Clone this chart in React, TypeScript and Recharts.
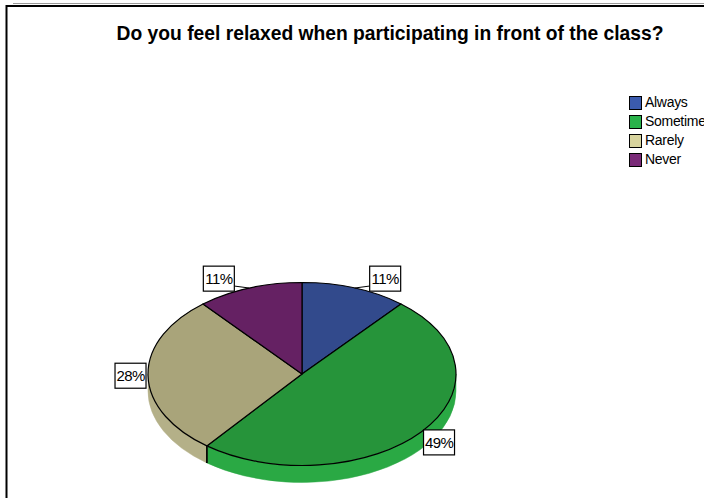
import { PieChart, Pie, Cell, Legend } from 'recharts';

const categories = ['Always', 'Sometimes', 'Rarely', 'Never'];
const percents = [11, 49, 28, 11];

const topColors = ['#324a8c', '#26943a', '#a9a47a', '#652163'];
const sideColors = ['#3a569e', '#2aa944', '#b4b088', '#74286f'];
const legendColors = ['#3b5bae', '#29b24a', '#d8d49e', '#7a2a78'];

const FONT = 'Arial, "Liberation Sans", sans-serif';
const FLAT = 0.594; // ellipse ratio of the tilted pie
const DEPTH = 17;

const data = categories.map((name, i) => ({ name, value: percents[i] }));

function pt(cx: number, cy: number, rx: number, ry: number, deg: number) {
  const r = (deg * Math.PI) / 180;
  return [cx + rx * Math.cos(r), cy - ry * Math.sin(r)];
}

function Slice3D(props: any) {
  const { cx, cy, outerRadius, startAngle, endAngle } = props;
  const name = props.payload?.name ?? props.name;
  const i = categories.indexOf(name);
  const rx = outerRadius;
  const ry = outerRadius * FLAT;
  const s = Math.max(startAngle, endAngle);
  const e = Math.min(startAngle, endAngle);
  const [x1, y1] = pt(cx, cy, rx, ry, s);
  const [x2, y2] = pt(cx, cy, rx, ry, e);
  const large = s - e > 180 ? 1 : 0;
  const top = `M${cx},${cy} L${x1},${y1} A${rx},${ry} 0 ${large} 1 ${x2},${y2} Z`;

  // side wall: the part of the arc in the front (lower) half
  const sides: any[] = [];
  [[-180, 0], [180, 360], [-540, -360]].forEach(([lo0, hi0], k) => {
    const lo = Math.max(e, lo0);
    const hi = Math.min(s, hi0);
    if (hi - lo < 0.01) return;
    const [ax, ay] = pt(cx, cy, rx, ry, hi);
    const [bx, by] = pt(cx, cy, rx, ry, lo);
    const d = `M${ax},${ay} A${rx},${ry} 0 0 1 ${bx},${by} L${bx},${by + DEPTH} A${rx},${ry} 0 0 0 ${ax},${ay + DEPTH} Z`;
    sides.push(<path key={'s' + k} d={d} fill={sideColors[i]} stroke={sideColors[i]} strokeWidth={0.5} />);
    if (lo === e && lo > lo0 + 0.01) {
      sides.push(<line key={'l' + k} x1={bx} y1={by} x2={bx} y2={by + DEPTH} stroke="#000" strokeWidth={1.5} />);
    }
    if (hi === s && hi < hi0 - 0.01) {
      sides.push(<line key={'h' + k} x1={ax} y1={ay} x2={ax} y2={ay + DEPTH} stroke="#000" strokeWidth={1.5} />);
    }
  });

  return (
    <g>
      {sides}
      <path d={top} fill={topColors[i]} stroke="#000" strokeWidth={1.2} strokeLinejoin="round" />
    </g>
  );
}

function renderLabel(props: any) {
  const { cx, cy, midAngle, outerRadius, value } = props;
  const rx = outerRadius;
  const ry = outerRadius * FLAT;
  const c = Math.cos((midAngle * Math.PI) / 180);
  const s = Math.sin((midAngle * Math.PI) / 180);
  const [px, py] = pt(cx, cy, rx, ry, midAngle);
  const w = 31;
  const h = 25;
  const g = s > 0.5 ? 15 : 2;
  const bx = c >= 0 ? px + g : px - g - w;
  const dy = s > 0 ? -10 * s : -17 * s;
  const by = py + dy - h / 2;
  const ex = c >= 0 ? bx : bx + w;
  const ey = Math.min(Math.max(py - 2, by), by + h);
  return (
    <g>
      {g > 5 && <line x1={px} y1={py} x2={ex} y2={ey} stroke="#000" strokeWidth={1} />}
      <rect x={bx} y={by} width={w} height={h} fill="#fff" stroke="#000" strokeWidth={1.2} />
      <text
        x={bx + w / 2}
        y={by + h / 2 + 5.5}
        textAnchor="middle"
        fontSize={15}
        letterSpacing={-0.6}
        fontFamily={FONT}
        fill="#000"
      >
        {value}%
      </text>
    </g>
  );
}

function renderLegend() {
  return (
    <div style={{ fontFamily: FONT, fontSize: 14, lineHeight: '19px' }}>
      {categories.map((name, i) => (
        <div key={name} style={{ display: 'flex', alignItems: 'center', whiteSpace: 'nowrap' }}>
          <span
            style={{
              display: 'inline-block',
              width: 11,
              height: 12,
              background: legendColors[i],
              border: '1px solid #000',
              marginRight: 3,
            }}
          />
          <span style={{ color: '#000', letterSpacing: -0.3 }}>{name}</span>
        </div>
      ))}
    </div>
  );
}

export default function App() {
  return (
    <div style={{ position: 'absolute', left: 0, top: 0, width: 704, height: 498, background: '#fff', overflow: 'hidden' }}>
      <PieChart width={704} height={498} margin={{ top: 0, right: 0, bottom: 0, left: 0 }}>
        <line x1={13} y1={3.5} x2={704} y2={3.5} stroke="#9a9a9a" strokeWidth={1} />
        <line x1={6} y1={6} x2={704} y2={6} stroke="#000" strokeWidth={2} />
        <line x1={6.5} y1={5} x2={6.5} y2={498} stroke="#000" strokeWidth={2} />
        <text
          x={390}
          y={40}
          textAnchor="middle"
          fontSize={21}
          fontWeight="bold"
          fontFamily={FONT}
          textLength={547}
          lengthAdjust="spacingAndGlyphs"
          fill="#000"
        >
          Do you feel relaxed when participating in front of the class?
        </text>
        <Pie
          data={data}
          dataKey="value"
          nameKey="name"
          cx={302}
          cy={374}
          outerRadius={154}
          startAngle={90}
          endAngle={-270}
          shape={Slice3D}
          label={renderLabel}
          labelLine={false}
          isAnimationActive={false}
        >
          {data.map((d, i) => (
            <Cell key={d.name} fill={topColors[i]} />
          ))}
        </Pie>
        <Legend
          content={renderLegend}
          layout="vertical"
          wrapperStyle={{ position: 'absolute', left: 629, top: 93, width: 90 }}
        />
      </PieChart>
    </div>
  );
}
